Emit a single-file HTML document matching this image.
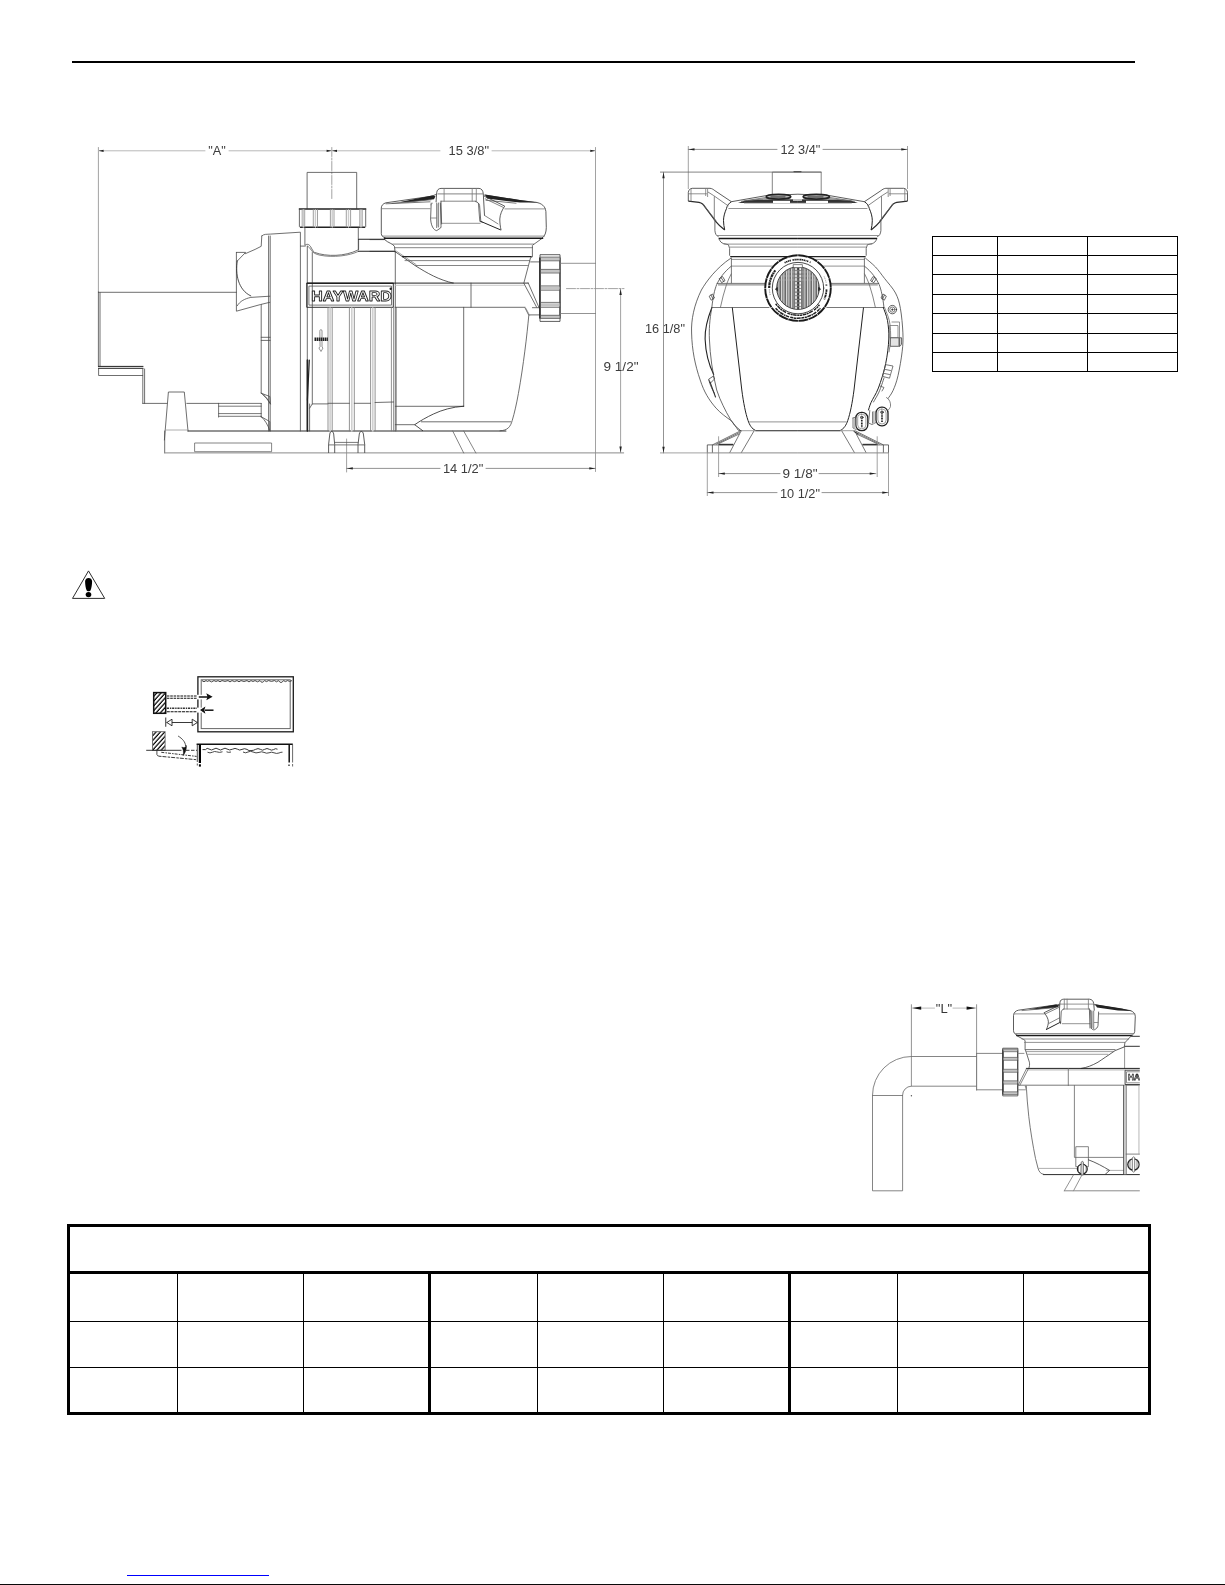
<!DOCTYPE html>
<html>
<head>
<meta charset="utf-8">
<title>Pump dimensions and installation</title>
<style>
html,body{margin:0;padding:0;background:#fff;}
body{width:1225px;height:1585px;position:relative;overflow:hidden;font-family:"Liberation Sans",sans-serif;}
.abs{position:absolute;}
#toprule{left:72px;top:61px;width:1063px;height:2px;background:#000;}
#botrule{left:0;top:1584px;width:1225px;height:1px;background:#0a0a0a;}
#link{left:127px;top:1575px;width:142px;height:1px;background:#0000ff;}
svg{position:absolute;left:0;top:0;will-change:transform;}
</style>
</head>
<body>
<div id="toprule" class="abs"></div>
<svg id="art" width="1225" height="1585" viewBox="0 0 1225 1585" fill="none" stroke="#000" stroke-width="1">
<!--TABLE1-->
<g id="tbl1" shape-rendering="crispEdges">
<rect x="932.5" y="236.5" width="245" height="135"/>
<path d="M997.5 236.5V371.5M1087.5 236.5V371.5M932.5 255.5H1177.5M932.5 274.5H1177.5M932.5 294.5H1177.5M932.5 313.5H1177.5M932.5 333.5H1177.5M932.5 352.5H1177.5"/>
</g>
<!--TABLE2-->
<g id="tbl2" shape-rendering="crispEdges">
<rect x="68.5" y="1225.5" width="1081" height="188" stroke-width="3"/>
<path d="M68.5 1272.5H1149.5M429.5 1272.5V1413.5M789.5 1272.5V1413.5" stroke-width="3"/>
<path d="M177.5 1272.5V1413.5M303.5 1272.5V1413.5M537.5 1272.5V1413.5M663.5 1272.5V1413.5M897.5 1272.5V1413.5M1023.5 1272.5V1413.5M68.5 1321.5H1149.5M68.5 1367.5H1149.5"/>
</g>
<!--SIDEVIEW_START-->
<g id="side" stroke="#4a4a4a" stroke-width="0.8" stroke-linecap="round" stroke-linejoin="round">
<!-- dimension / extension lines -->
<g stroke="#8a8a8a" stroke-width="0.8">
<path d="M98.4 147.5V292M595.5 147.5V471.5M346.6 439V472M620.6 289V452.5"/>
<path d="M566.5 288.6H624" stroke-dasharray="9 1.5 2 1.5"/>
<path d="M331.8 147.5V199" stroke-dasharray="9 1.5 2 1.5"/>
</g>
<g stroke="#b0b0b0" stroke-width="0.9">
<path d="M98.4 150.8H205M229 150.8H440M492 150.8H595.5"/>
</g>
<g stroke="#777" stroke-width="0.8">
<path d="M346.6 468.4H440M486 468.4H595.5"/>
</g>
<g fill="#222" stroke="none">
<path d="M98.6 150.8l5 -1.1v2.2zM331.6 150.8l-5 -1.1v2.2zM332 150.8l5 -1.1v2.2zM595.3 150.8l-5 -1.1v2.2z"/>
<path d="M346.8 468.4l6 -1.2v2.4zM595.3 468.4l-6 -1.2v2.4z"/>
<path d="M620.6 289l-1.2 6h2.4zM620.6 452.6l-1.2 -6h2.4z"/>
</g>
<!-- motor -->
<path d="M98.4 292.3H236.4"/>
<path d="M98.4 292V366.3M100 292.5V366"/>
<path d="M98.4 366.4H143M98.4 368.3H143" stroke="#222" stroke-width="1"/>
<path d="M98.6 368.5V375.5H142.7M142.8 368.5V403.4M144.6 369V403.4M142.8 403.4H167M186.8 403.4H218.6"/>
<!-- foot -->
<path d="M164.4 440L168.4 392H184.3L188 431"/>
<path d="M165.8 430H188" stroke="#999"/>
<!-- base -->
<path d="M164.7 431V452.9" />
<path d="M188 431H505.9" stroke="#2a2a2a" stroke-width="1.1"/>
<path d="M164.7 452.9H623.7" stroke="#8a8a8a" stroke-width="1"/>
<rect x="195" y="443" width="76.6" height="8.7" stroke="#666"/>
<!-- small box left of bracket -->
<path d="M218.6 403.4V417.1M218.6 403.4H261.2M218.6 406.2H261.2M218.6 413.6H261.2M218.6 416.3H261.2" stroke="#555"/>
<!-- bracket / end bell -->
<path d="M261.8 235.9C264 233.8 267 234.4 270.4 234.1L300.4 232.2V431"/>
<path d="M261.8 235.9L261.2 246.3L255.1 249.4L245.3 253.7"/>
<path d="M236.4 252.4H245.6L237.3 261"/>
<path d="M236.4 252.4V311.2L260.6 304.5L269.8 302.3"/>
<path d="M237.3 261C235.2 274 238 290 250.8 295.9" stroke="#222"/>
<path d="M237.3 305.7C240 301 245 298.7 250.8 297.4L269.8 296.2"/>
<path d="M268.6 236V431M270.2 236V431M261.2 304.5V393M261.2 403.4V417"/>
<path d="M261.2 337.3H270.2M261.2 340.4H270.2"/>
<path d="M261.2 393.2L269.8 396.5L270.4 403.9M261.2 393.2C265 396 268 400 270.4 403.9M263 394.5C266 397 268.5 400 269.8 403"/>
<path d="M261.2 416.7L269.8 421.6V430.8M261.2 416.7C265 420 268 425 269.8 430.8"/>
<!-- body left verticals -->
<path d="M307.3 246V431M312.3 252.5V404M300.4 246.1H305.3"/>
<path d="M307.4 360V431" stroke="#222" stroke-width="1.6"/>
<path d="M309.3 360L307.4 400" stroke="#222" stroke-width="1.2"/>
<path d="M309.6 404V431M309.6 408.2L312.3 403.9H328"/>
<!-- top pipe + union -->
<path d="M307.1 208.4V172.4H356.7V208.4"/>
<path d="M299.4 209H365.7M300.5 227.3H364.7" stroke="#222" stroke-width="1.4"/>
<path d="M299.4 209V226.5M365.7 209V226.5" stroke="#444"/>
<path d="M302.2 209.5V227M304.7 209.5V227M313.3 209.5V227M317.5 209.5V227M330.4 209.5V227M334 209.5V227M346.3 209.5V227M350.6 209.5V227M359.8 209.5V227M362.2 209.5V227" stroke="#888"/>
<path d="M303.4 210V227M315.4 210V227M332.2 210V227M348.5 210V227M361 210V227" stroke="#ccc" stroke-width="1.4"/>
<path d="M304.9 227.5V245.1M358.3 227.5V250"/>
<!-- body top curve -->
<path d="M305.3 245.1C307 243.5 309 244.3 310.5 246.5C312 249 313 251.5 314.5 252.4C327 257 345 256.3 357.3 250.3L358.6 249.5V239.5"/>
<path d="M307.4 246.6C309 246 310 248.6 311.5 250.5C313 253 316 254.3 320 255.2C333 257.8 349 256 358.6 251.3" stroke="#666"/>
<path d="M358.6 239.3H384.7M358.6 251.3H394.5" stroke="#222" stroke-width="1.1"/>
<!-- logo plate -->
<rect x="307.1" y="283.3" width="86.2" height="24" stroke="#333" stroke-width="1"/>
<rect x="309.3" y="286.1" width="82.2" height="19" stroke="#555"/>
<path d="M307.1 283.3H393.3" stroke="#222" stroke-width="1.3"/>
<text x="311.2" y="300.8" font-family="Liberation Sans, sans-serif" font-weight="bold" font-size="14.8" textLength="80.5" lengthAdjust="spacingAndGlyphs" fill="#fff" stroke="#222" stroke-width="0.85">HAYWARD</text>
<circle cx="390.7" cy="288.8" r="1.2" fill="#222" stroke="none"/>
<!-- ribs -->
<path d="M328 307.5V431M332.2 307.5V431M349.4 307.5V431M354.3 307.5V431M370.6 307.5V431M375.1 307.5V431M391.4 307.5V431M393.6 307.5V431" stroke="#777"/>
<path d="M330.1 308V431M351.8 308V431M372.8 308V431" stroke="#d0d0d0" stroke-width="1.6"/>
<path d="M328 403.3H349.4M354.3 403.3H370.6M375.1 402.5L393.6 402"/>
<!-- cross symbol -->
<path d="M319.8 331C319.8 329 322 329 322 331V347L323 348L321 351.5L318.9 348L319.8 347Z" stroke="#777"/>
<path d="M314.5 339.2H328" stroke="#222" stroke-width="3.6" stroke-dasharray="1.6 0.5" stroke-linecap="butt"/>
<!-- drain plugs -->
<path d="M328.6 452.5V444.5L329.8 434C330.2 430.6 333.2 430.6 333.7 434L334.7 444.5V452.5M358 452.5V444.5L359.3 434C359.8 430.6 362.9 430.6 363.4 434L364.7 444.5V452.5" stroke="#333"/>
<path d="M328.6 444.9H364.7M334.7 442.4H358" stroke="#555"/>
<!-- strainer housing -->
<path d="M395.3 251.6V431"/>
<path d="M396.3 307.5V431" stroke="#777"/>
<path d="M370 251.4H394.5" stroke="#333"/>
<path d="M370 239.6H384.7C388 243 393 243.5 394.5 246.5L395.1 252" stroke="#333"/>
<path d="M395.1 251.6L415.3 265.7C427 273 439 280 453.3 283.1" stroke="#333"/>
<path d="M396.5 251.2L416 264.5" stroke="#888"/>
<path d="M307.1 283.1H453.3" stroke="#222" stroke-width="1"/>
<path d="M453.3 283.1H528.2" stroke="#666" stroke-width="1.1"/>
<path d="M395.3 285.3H524" stroke="#bbb"/>
<path d="M395.1 307.3H525.1M471 283.1V307.3M463.7 307.3V406.3M395.3 406.3H463.7"/>
<path d="M463.7 406.2C452 407 442 410 433.7 413.9C427 417 420 421 414.7 424.7L422.7 430.7" stroke="#222"/>
<path d="M395.3 424.7H414.7M421.4 421.8H510.8"/>
<!-- rings under lid -->
<path d="M392.7 244.1H533.7M395.1 247.7H532.4" stroke="#666"/>
<path d="M402.4 256.6H531.2" stroke="#222" stroke-width="1.3"/>
<path d="M405 260.6H529.5M415.3 265.5H527.5" stroke="#666"/>
<!-- body right outline -->
<path d="M542.2 238.3L533 244.9L532.4 245.5V256.9L530.6 257.5L523.9 282.9"/>
<path d="M530.6 261.9H539.8M532.4 307.7H539.8M528.8 314.9H539.8"/>
<path d="M528.2 282.9L539.2 308M523.9 283.4L536.7 307.3"/>
<path d="M525.1 308L528.8 315.3C527 335 523.5 365 518.4 393.5C516.5 404 514.5 413 512.2 420.6C510.5 426.5 508 430.5 500 430.8" />
<path d="M526 308.5L529.6 315.3" stroke="#888"/>
<!-- right union -->
<rect x="540.4" y="254.7" width="19.6" height="66.7" stroke="#333"/>
<path d="M539.9 258V318" stroke="#222" stroke-width="1.5"/>
<path d="M560 258V318" stroke="#222" stroke-width="1"/>
<path d="M541 258.9H559.5M541 271.2H559.5M541 288H559.5M541 304.8H559.5M541 316.8H559.5" stroke="#c4c4c4" stroke-width="3.2" stroke-linecap="butt"/>
<path d="M540.4 257.1H560M540.4 260.8H560M540.4 269.4H560M540.4 273H560M540.4 285.9H560M540.4 290.2H560M540.4 302.4H560M540.4 307.3H560M540.4 315.3H560M540.4 318.4H560" stroke="#555"/>
<path d="M560 263.3H595.5M560 313.5H595.5" stroke="#777"/>
<!-- legs -->
<path d="M452.7 431L463.7 453M463.7 431L475.9 453" stroke="#666"/>
</g>
<!--SIDEVIEW_END-->
<!--LID_START-->
<g id="lid" stroke="#4a4a4a" stroke-width="0.8" stroke-linecap="round" stroke-linejoin="round">
<!-- lid outline -->
<path d="M385.3 238C382.5 237 381.4 235.5 381.3 233.7V208C381.4 205.5 383 203.6 385.9 202.8L431.2 196.3L436.1 194.5" stroke="#333"/>
<path d="M484.5 195.1L520 200.6L536 202.3C541.5 203.3 545.3 206 545.9 211.6L546.3 227.6C546.2 232.5 545 236 542.2 238" stroke="#333"/>
<path d="M382.5 236.1H544.5" stroke="#777"/>
<path d="M384.5 238.3H542.6" stroke="#1a1a1a" stroke-width="1.5"/>
<path d="M381.6 208.7H430M504.9 208.9H545.5" stroke="#777"/>
<!-- dark wedges on top -->
<path d="M400 202L432 195.4L435.5 196.2L434 199.3L408 202.3Z" fill="#222" stroke="none"/>
<path d="M392 203.4L431 199.8M386 203.8L430 201.8" stroke="#555"/>
<path d="M485 194.4L520 200L538 202.6L520 202.6L487 198.6Z" fill="#222" stroke="none"/>
<path d="M486 200.3L516 203.2" stroke="#555"/>
<!-- handle -->
<path d="M436.1 201.8L436.7 192.7C437 190 438.5 188.5 441 188.4H479C481.5 188.5 483 190.5 483.3 193.9L484.5 215.3" stroke="#333"/>
<path d="M438 193.9H482.6M441 201.2H475.3" stroke="#666"/>
<path d="M441 201.2L441.6 223.9M475.3 201.2C477.5 202 479.2 203.3 479.6 205.5L480.8 221.4" stroke="#444"/>
<path d="M444.1 188.4V201.2M472.2 188.4V201.2M476.3 188.4V202" stroke="#777"/>
<path d="M441.6 223.3H480.2" stroke="#777"/>
<!-- left leg of handle -->
<path d="M431.2 203.1L430.6 219C430.9 223.5 432 226.7 433.7 228.8C434.8 230 435.8 230.5 436.7 230.6L440.6 228C441.1 227.5 441.1 226.5 441 225.5L440.4 203" stroke="#444"/>
<path d="M436.7 203V227.6M438.6 203V227" stroke="#555"/>
<path d="M437.6 204V226" stroke="#bbb" stroke-width="1.2"/>
<path d="M431 218H436.7M430.6 204.8L432.5 203.2" stroke="#777"/>
<!-- right leg & wing -->
<path d="M478.4 203.5L479.8 221.4L482.5 222.3" stroke="#555"/>
<path d="M484.5 196.3L504.7 206.1C502 210 500 214.5 499.8 219C499.8 223 500.3 227 501 229.8" stroke="#333"/>
<path d="M480.8 221.4L500.4 229.8" stroke="#222" stroke-width="1"/>
<path d="M484.6 215.5L498 223.9M485.2 198.8L503.5 207.5" stroke="#666"/>
</g>
<g id="sidetext" opacity="0.99" font-family="Liberation Sans, sans-serif" font-size="12" fill="#3a3a3a" stroke="none" text-anchor="middle">
<text x="217" y="155.2" textLength="17.5" lengthAdjust="spacingAndGlyphs">"A"</text>
<text x="468.8" y="155.2" textLength="40.4" lengthAdjust="spacingAndGlyphs">15 3/8"</text>
<text x="463.1" y="473.3" textLength="40.4" lengthAdjust="spacingAndGlyphs">14 1/2"</text>
<text x="621" y="370.8" textLength="35" lengthAdjust="spacingAndGlyphs">9 1/2"</text>
</g>
<!--LID_END-->
<!--FRONTVIEW_START-->
<g id="front" stroke="#4a4a4a" stroke-width="0.8" stroke-linecap="round" stroke-linejoin="round">
<g stroke-linecap="butt">
<!-- handle -->
<path d="M688.3 201.1V192.5C688.6 190 690 188.5 692.2 188.3H710C712 188.5 713.5 189.5 714.9 190.7L731.4 201.7" stroke="#333"/>
<path d="M688.3 201.1L699 202.3C702 203 704 205 705.1 207.2L716.1 221.9C718.5 225 721.5 227.5 724.7 229.9" stroke="#2a2a2a" stroke-width="1.200"/>
<path d="M731.4 201.7C728.5 203.5 727 206 726.5 208.5C724.5 213 723.5 217 723.5 220.7C723.6 224 724 227 724.7 229.9" stroke="#222" stroke-width="1"/>
<path d="M688.3 193.8H706.9M691 189V201.3M705.7 188.3V196M707.6 188.3V197" stroke="#777"/>
<path d="M713.7 195.6L728.4 206M708 192L713.7 195.6M702.7 203.7L716.1 220.8" stroke="#666"/>
<path d="M714.3 196.2V220.7" stroke="#666"/>
<!-- lid -->
<path d="M731.4 201.7L766.3 195.6L797.9 194.2" stroke="#333"/>
<path d="M728.4 208.5H797.9" stroke="#777"/>
<path d="M714.9 221V230.6C715.2 234 716.5 236 718.6 236.7" stroke="#444"/>
<path d="M717 235.5H797.9" stroke="#777"/>
<path d="M718.6 238.6H797.9" stroke="#1a1a1a" stroke-width="1.5"/>
<path d="M719.2 239.2C720 241.5 721.5 243 723.5 243.5L728.4 244.7L729.6 248.4V255.7" stroke="#444"/>
<path d="M723.5 244.1H797.9M729.6 247.1H797.9" stroke="#777"/>
<path d="M730.2 256.6H797.9" stroke="#222" stroke-width="1.1"/>
<path d="M731 259.4H797.9M731.4 266.1H797.9" stroke="#777"/>
<path d="M731.4 257.6V283.3" stroke="#555"/>
<path d="M716.7 283.4H797.9M718 284.9H797.9" stroke="#555"/>
<!-- top dark band of lid -->
<path d="M738 202.9L745 200.600L766 199.500L797.900 199.300V202.900Z" fill="#333" stroke="none"/>
<path d="M741 201.400L770 196.800M748 200.600L772 198" stroke="#555" stroke-width="0.700"/>
<path d="M744 203.2H797.9" stroke="#999"/>
<!-- outer body arcs -->
<path d="M731.4 266.1C724 272 719.5 278.5 716.7 284.5C714.5 290 713 297 711.8 307.8" stroke="#444"/>
<path d="M731.4 273.5C729.5 277 727.8 281 726.5 284.5C724 292 722 300 720.4 307.5" stroke="#666"/>
<path d="M711.8 307.5H769.4" stroke="#555"/>
<!-- strainer body -->
<path d="M732.3 307.5L741.8 390C743.5 403 745.5 413 748 420.4C749.5 425 752 429 755.3 430.2" stroke="#222" stroke-width="1"/>
<path d="M749.2 421.9H797.9" stroke="#777"/>
<path d="M755.3 430.8H797.9" stroke="#222" stroke-width="1.1"/>
<path d="M740.6 430.7H755.3" stroke="#888"/>
<!-- legs + base -->
<path d="M741.2 430.8L729.6 452.9M754.1 430.8L741.2 452.9" stroke="#555"/>
<path d="M707.3 452.9V444.9H733.3M712.4 444.9V452.9" stroke="#444"/>
<path d="M712.4 444.9L740.6 430.8M718.6 443.7L739.4 433.9M716 444.2L739.8 432.4" stroke="#555"/>
<path d="M718 444.5H733.3" stroke="#333" stroke-width="1.4"/>
<path d="M707.3 452.9H797.9" stroke="#8a8a8a" stroke-width="1"/>
<!-- ext lines -->
<path d="M688.3 146V189M707.3 453V496M718.6 436.3V477" stroke="#8a8a8a"/>
</g>
<g stroke-linecap="butt" transform="translate(1595.8 0) scale(-1 1)">
<!-- handle -->
<path d="M688.3 201.1V192.5C688.6 190 690 188.5 692.2 188.3H710C712 188.5 713.5 189.5 714.9 190.7L731.4 201.7" stroke="#333"/>
<path d="M688.3 201.1L699 202.3C702 203 704 205 705.1 207.2L716.1 221.9C718.5 225 721.5 227.5 724.7 229.9" stroke="#2a2a2a" stroke-width="1.200"/>
<path d="M731.4 201.7C728.5 203.5 727 206 726.5 208.5C724.5 213 723.5 217 723.5 220.7C723.6 224 724 227 724.7 229.9" stroke="#222" stroke-width="1"/>
<path d="M688.3 193.8H706.9M691 189V201.3M705.7 188.3V196M707.6 188.3V197" stroke="#777"/>
<path d="M713.7 195.6L728.4 206M708 192L713.7 195.6M702.7 203.7L716.1 220.8" stroke="#666"/>
<path d="M714.3 196.2V220.7" stroke="#666"/>
<!-- lid -->
<path d="M731.4 201.7L766.3 195.6L797.9 194.2" stroke="#333"/>
<path d="M728.4 208.5H797.9" stroke="#777"/>
<path d="M714.9 221V230.6C715.2 234 716.5 236 718.6 236.7" stroke="#444"/>
<path d="M717 235.5H797.9" stroke="#777"/>
<path d="M718.6 238.6H797.9" stroke="#1a1a1a" stroke-width="1.5"/>
<path d="M719.2 239.2C720 241.5 721.5 243 723.5 243.5L728.4 244.7L729.6 248.4V255.7" stroke="#444"/>
<path d="M723.5 244.1H797.9M729.6 247.1H797.9" stroke="#777"/>
<path d="M730.2 256.6H797.9" stroke="#222" stroke-width="1.1"/>
<path d="M731 259.4H797.9M731.4 266.1H797.9" stroke="#777"/>
<path d="M731.4 257.6V283.3" stroke="#555"/>
<path d="M716.7 283.4H797.9M718 284.9H797.9" stroke="#555"/>
<!-- top dark band of lid -->
<path d="M738 202.9L745 200.600L766 199.500L797.900 199.300V202.900Z" fill="#333" stroke="none"/>
<path d="M741 201.400L770 196.800M748 200.600L772 198" stroke="#555" stroke-width="0.700"/>
<path d="M744 203.2H797.9" stroke="#999"/>
<!-- outer body arcs -->
<path d="M731.4 266.1C724 272 719.5 278.5 716.7 284.5C714.5 290 713 297 711.8 307.8" stroke="#444"/>
<path d="M731.4 273.5C729.5 277 727.8 281 726.5 284.5C724 292 722 300 720.4 307.5" stroke="#666"/>
<path d="M711.8 307.5H769.4" stroke="#555"/>
<!-- strainer body -->
<path d="M732.3 307.5L741.8 390C743.5 403 745.5 413 748 420.4C749.5 425 752 429 755.3 430.2" stroke="#222" stroke-width="1"/>
<path d="M749.2 421.9H797.9" stroke="#777"/>
<path d="M755.3 430.8H797.9" stroke="#222" stroke-width="1.1"/>
<path d="M740.6 430.7H755.3" stroke="#888"/>
<!-- legs + base -->
<path d="M741.2 430.8L729.6 452.9M754.1 430.8L741.2 452.9" stroke="#555"/>
<path d="M707.3 452.9V444.9H733.3M712.4 444.9V452.9" stroke="#444"/>
<path d="M712.4 444.9L740.6 430.8M718.6 443.7L739.4 433.9M716 444.2L739.8 432.4" stroke="#555"/>
<path d="M718 444.5H733.3" stroke="#333" stroke-width="1.4"/>
<path d="M707.3 452.9H797.9" stroke="#8a8a8a" stroke-width="1"/>
<!-- ext lines -->
<path d="M688.3 146V189M707.3 453V496M718.6 436.3V477" stroke="#8a8a8a"/>
</g>
<!-- left arcs -->
<path d="M730.8 258.2C716 268 706 282 701.4 290C694 305 691 320 691.6 333C692 350 695 365 700.2 380C704 392 709 400 716.1 408.2C721 413.5 726 417 730.8 420.4C734 423.5 736 427 738.2 430.2L741 430.7" stroke="#444"/>
<path d="M711.8 307.8C707 320 704.8 330 705.1 339C705.6 352 708.5 364 713.7 374.5" stroke="#222" stroke-width="1.1"/>
<path d="M711.8 307.8C709.5 320 709 330 709.4 339C710 355 712.5 373 716.7 390L719.8 398.4C724 408 729 418 734.5 425.3L740.6 430.6" stroke="#444"/>
<path d="M708.8 380C710 385 712.5 390 714.5 393.5" stroke="#444"/>
<!-- right arcs -->
<path d="M865.5 258.2C867.2 259.7 872.3 263.6 875.5 267.0C878.7 270.4 881.2 274.1 884.5 278.4C887.8 282.7 892.9 288.0 895.5 293.0C898.1 298.0 899.2 301.8 900.4 308.4C901.6 315.0 902.6 325.8 902.9 332.9C903.2 340.0 903.0 344.1 902.2 351.2C901.4 358.3 899.5 369.2 898.0 375.7C896.5 382.2 894.8 386.6 893.1 390.4C891.4 394.2 888.9 397.1 888.0 398.5" stroke="#444"/>
<path d="M883.3 307.5C884.0 309.7 886.6 315.4 887.5 320.6C888.4 325.9 889.1 331.9 888.8 339.0C888.5 346.1 887.4 355.3 885.7 363.5C884.0 371.7 880.9 381.5 878.4 388.0C875.9 394.5 872.6 398.9 871.0 402.6C869.4 406.3 868.9 408.8 868.5 410.0" stroke="#222" stroke-width="1"/>
<path d="M884.6 307.5C885.4 309.9 888.6 316.8 889.6 322.0C890.6 327.2 890.7 334.0 890.6 339.0C890.5 344.0 889.3 349.8 889.0 352.0" stroke="#666"/>
<path d="M884.0 378.0C883.2 380.3 880.8 388.0 879.0 392.0C877.2 396.0 874.4 400.3 873.5 402.0" stroke="#444"/>
<!-- left clips -->
<path d="M719.5 278.5L722.5 276.5L725 280.5L722 282.5ZM721 277.5L723.8 281.6" stroke="#444"/>
<path d="M709.5 296L712.5 294L714.5 298L711.5 300ZM711 295L713 299" stroke="#444"/>
<path d="M709 379L713.5 376L714.5 379L710.5 383Z" stroke="#444"/>
<path d="M710 382L715.5 397" stroke="#333" stroke-width="1.1"/>
<!-- right clips -->
<path d="M876 278.5L873 276.5L870.5 280.5L873.5 282.5ZM874.5 277.5L871.7 281.6" stroke="#444"/>
<path d="M886 296L883 294L881 298L884 300ZM884.5 295L882.5 299" stroke="#444"/>
<circle cx="892.400" cy="309.600" r="4.200" stroke="#333" fill="#fff"/>
<circle cx="892.400" cy="309.600" r="2.600" stroke="#444" stroke-width="0.700"/>
<path d="M891.100 309.600H893.700M892.400 308.300V310.900" stroke="#222" stroke-width="0.700" stroke-linecap="butt"/>
<path d="M890 325.5H898V337.8H890ZM892 322H899.5V337" stroke="#777"/>
<path d="M890.6 337.8H901.6V343C901.6 345 900.5 346.3 898.5 346.3H890.6Z" stroke="#444" fill="#e4e4e4"/>
<path d="M899.3 338V346" stroke="#666" stroke-width="1.6"/>
<path d="M886 364.7L893 366L889.5 378.2L883 376.5ZM885.5 369.5L890.5 370.5M884.5 373.5L889.5 374.5" stroke="#555"/>
<path d="M880 386L884 387.5L882 391" stroke="#555"/>
<!-- drain plugs -->
<g stroke="#222" stroke-width="1.3">
<rect x="855.800" y="412.300" width="12" height="18.400" rx="5.700" fill="#fff"/>
<rect x="857.700" y="414.200" width="8.200" height="14.600" rx="3.900" stroke="#777" stroke-width="0.700"/>
<circle cx="861.800" cy="417.400" r="1.300" fill="#888" stroke="#222" stroke-width="0.700"/>
<path d="M861.800 419.800V427.400" stroke="#222" stroke-width="1.700" stroke-dasharray="1.100 0.500" stroke-linecap="butt"/>
<rect x="876" y="407.200" width="12" height="18.600" rx="5.700" fill="#fff"/>
<rect x="877.900" y="409.100" width="8.200" height="14.800" rx="3.900" stroke="#777" stroke-width="0.700"/>
<circle cx="882" cy="412.200" r="1.300" fill="#888" stroke="#222" stroke-width="0.700"/>
<path d="M882 414.600V422.400" stroke="#222" stroke-width="1.700" stroke-dasharray="1.100 0.500" stroke-linecap="butt"/>
</g>
<path d="M853 418V428L856.200 429.500M853 418L856 417M869.800 410.500L868.500 423L872 424.500L876 422.500M872.500 412V423" stroke="#555"/>
<path d="M854.500 419V428" stroke="#bbb" stroke-width="1.600"/>
<path d="M873.800 412V423" stroke="#bbb" stroke-width="1.800"/>
<path d="M886.500 397.500C889.500 399 891 403 890.500 406.500C890 408 889 409.500 887.800 410.500" stroke="#666"/>
<path d="M853.900 431.500L858 434" stroke="#333" stroke-width="1"/>
<!-- top pipe and ellipses -->
<path d="M772.3 195V172.1H821.2V195" stroke="#666"/>
<path d="M660.4 172.1H821.2" stroke="#666"/>
<path d="M794 171.6H801" stroke="#555" stroke-width="1.2"/>
<ellipse cx="778.500" cy="196.700" rx="12.300" ry="2.400" stroke="#222" stroke-width="1.700" fill="#bbb"/>
<ellipse cx="816.300" cy="196.700" rx="13.200" ry="2.400" stroke="#222" stroke-width="1.700" fill="#bbb"/>
<path d="M771 197H785M808 197H823" stroke="#555" stroke-width="1.4"/>
<rect x="773" y="200.8" width="17" height="2.3" fill="#fff" stroke="none"/>
<rect x="806" y="200.8" width="22" height="2.3" fill="#fff" stroke="none"/>
<rect x="793" y="199.2" width="9" height="1.6" fill="#ddd" stroke="none"/>
<!-- front union circle -->
<circle cx="798" cy="288.1" r="32.800" fill="#fff" stroke="#1a1a1a" stroke-width="1.900" stroke-dasharray="9.800 0.500" stroke-linecap="butt"/>

<circle cx="798" cy="288.1" r="25.7" stroke="#333" stroke-width="0.9"/>
<g stroke-linecap="butt"><path d="M784.6 262.8A28.6 28.6 0 0 1 810.5 262.4" stroke="#222" stroke-width="1.7" stroke-dasharray="1.2 0.5 1.6 0.5 1 0.5 1.4 1.6 1.8 0.4 1.3 0.4 1.6 0.4 1.2 0.4 1.5 0.4"/>
<path d="M769.2 288.1A28.8 28.8 0 0 1 775.6 270.0" stroke="#222" stroke-width="2.2" stroke-dasharray="2.2 0.6 3 0.5 1.6 0.5"/>
<path d="M770.2 295.0A28.6 28.6 0 0 1 769.4 289.1" stroke="#999" stroke-width="1.2" stroke-dasharray="1 0.8"/>

<path d="M826.3 284.1A28.6 28.6 0 0 1 823.7 300.6" stroke="#222" stroke-width="1.8" stroke-dasharray="0.6 0.6 0.6 3.5 2.4 0.5 2 0.5 2.5 0.5"/>
<path d="M824.1 276.5A28.6 28.6 0 0 1 826.2 283.1" stroke="#999" stroke-width="1" stroke-dasharray="1 0.8"/>
<path d="M775.6 308.3A30.2 30.2 0 0 0 820.4 308.3" stroke="#222" stroke-width="1.5" stroke-dasharray="3 0.6 2 0.5 4 0.6 1.5 0.5 3.5 1.2 3 0.5 2.5 0.5 4 0.6"/>
<path d="M775.7 303.7A27.2 27.2 0 0 0 819.4 304.8" stroke="#222" stroke-width="1.5" stroke-dasharray="2.5 0.6 3.5 0.5 2 0.6 4 1.5 3 0.5 2 0.5 3.5 0.6 2 0.5"/></g>
<circle cx="798" cy="288.1" r="21.3" fill="#8c8c8c" stroke="#333" stroke-width="0.9"/>
<clipPath id="strc"><circle cx="798" cy="288.1" r="20.8"/></clipPath>
<g clip-path="url(#strc)">
<path d="M779 266V310M781.5 266V310M784 266V310M786.5 266V310M789 266V310M791.5 266V310M805 266V310M807.5 266V310M810 266V310M812.5 266V310M815 266V310M817.5 266V310" stroke="#d8d8d8" stroke-width="1"/>
<path d="M780.2 266V310M785.2 266V310M790.2 266V310M806.2 266V310M811.2 266V310M816.2 266V310" stroke="#555" stroke-width="0.9"/>
<rect x="794" y="266" width="8.4" height="44" fill="#777" stroke="none"/>
<path d="M796 268V310M800.2 268V310" stroke="#fff" stroke-width="1.5" stroke-dasharray="1.5 2.1"/>
<path d="M798.1 268V310" stroke="#222" stroke-width="1.2" stroke-dasharray="1.5 2.1"/>
<path d="M778 272H818M778 276H818M778 280H818" stroke="#bbb" stroke-width="0.5"/>
</g>
<rect x="793.6" y="264.6" width="8.8" height="3" fill="#fff" stroke="#333" stroke-width="0.6"/>
<path d="M775.5 289L777.5 287.5V290.5ZM820.5 289L818.5 287.5V290.5Z" fill="#222" stroke="#222" stroke-width="0.6"/>
<!-- dims -->
<g stroke="#777">
<path d="M688.3 149.4H777M823 149.4H907.5M718.6 473.6H780M819 473.6H875.9M707.3 492.6H777M822 492.6H888.5"/>
<path d="M663.5 172.3V452.9"/>
<path d="M660.4 452.9H707.3" stroke="#8a8a8a"/>
</g>
<g fill="#222" stroke="none">
<path d="M688.5 149.4l6 -1.2v2.4zM907.3 149.4l-6 -1.2v2.4zM718.8 473.6l6 -1.2v2.4zM875.7 473.6l-6 -1.2v2.4zM707.5 492.6l6 -1.2v2.4zM888.3 492.6l-6 -1.2v2.4z"/>
<path d="M663.5 172.3l-1.2 6h2.4zM663.5 452.8l-1.2 -6h2.4z"/>
</g>
</g>
<g id="fronttext" opacity="0.99" font-family="Liberation Sans, sans-serif" font-size="12" fill="#3a3a3a" stroke="none" text-anchor="middle">
<text x="800.4" y="154" textLength="40" lengthAdjust="spacingAndGlyphs">12 3/4"</text>
<text x="665" y="332.8" textLength="40" lengthAdjust="spacingAndGlyphs">16 1/8"</text>
<text x="800" y="478.3" textLength="35" lengthAdjust="spacingAndGlyphs">9 1/8"</text>
<text x="800" y="497.6" textLength="40" lengthAdjust="spacingAndGlyphs">10 1/2"</text>
</g>
<!--FRONTVIEW_END-->
<!--WARNING_START-->
<g id="warn">
<path d="M88.500 570.900L72.500 598.400H104.700Z" stroke="#222" stroke-width="0.950" fill="#fff" stroke-linejoin="miter"/>
<path d="M85.1 581.3C85.1 576.8 92.1 576.8 92.1 581.3C92.1 584.5 91.4 588.5 90.6 590.3C90 591.6 87.1 591.6 86.6 590.3C85.7 588.5 85.1 584.5 85.1 581.3Z" fill="#000" stroke="none"/>
<ellipse cx="88.5" cy="594.6" rx="2.8" ry="2.6" fill="#000" stroke="none"/>
</g>
<!--WARNING_END-->
<!--POOL_START-->
<g id="pool" stroke="#111" stroke-linecap="butt">
<defs>
<pattern id="hat" width="3.2" height="3.2" patternUnits="userSpaceOnUse" patternTransform="rotate(-48)">
<rect width="3.2" height="3.2" fill="#fff" stroke="none"/>
<path d="M0 1H3.2" stroke="#000" stroke-width="1.25"/>
</pattern>
</defs>
<!-- plan view pool -->
<rect x="197.9" y="676.8" width="95.4" height="55" stroke="#1a1a1a" stroke-width="1.3"/>
<rect x="201.2" y="679.8" width="89" height="48.8" stroke="#666" stroke-width="1"/>
<path d="M202 680.6q2 2.4 4 0q1.500 1.800 3 0q2.500 2.600 5 0q2 1.800 4 0q2 2.400 4 0q3 1.600 6 0q2 2.600 4 0q2.500 2 5 0q2 2.400 4 0q3 1.800 6 0q2 2.600 4 0q2 1.800 4 0q2.500 2.400 5 0q2 3.400 4.500 0q2 2 4 0q3 1.600 6 0q2 2.400 4 0q2.500 3.800 5 0q2 2 4 0q2 1.600 4.500 0" stroke="#333" stroke-width="0.9"/>
<!-- pump box plan -->
<rect x="153.7" y="692.6" width="12" height="20.7" fill="url(#hat)" stroke="#111" stroke-width="1.5"/>
<!-- dashed pipes -->
<path d="M166.800 695.900H197.500M166.800 698.300H197.500" stroke="#111" stroke-width="1.050" stroke-dasharray="2.600 0.800"/>
<path d="M166.8 708.2H197.5" stroke="#333" stroke-width="1.5" stroke-dasharray="2.2 0.9 1.4 0.8"/>
<path d="M166.800 711.700H197.500" stroke="#111" stroke-width="1.050" stroke-dasharray="3 0.800"/>
<!-- arrows -->
<rect x="197" y="694.800" width="5" height="4.600" fill="#fff" stroke="none"/>
<rect x="197" y="707.600" width="5" height="5" fill="#fff" stroke="none"/>
<path d="M198.8 697H208" stroke="#111" stroke-width="1.5"/>
<path d="M212.6 696.8L206.3 693.3L207.5 696.8L206.3 700.2Z" fill="#111" stroke="none"/>
<path d="M205 710.2H213.5" stroke="#111" stroke-width="1.5"/>
<path d="M200 710L205.400 706.400L204.400 710L205.400 713.800Z" fill="#111" stroke="none"/>
<!-- distance arrow -->
<path d="M165.700 717.600V726.800" stroke="#555" stroke-width="1.2"/>
<path d="M166.500 722.500H197.500" stroke="#222" stroke-width="0.900"/>
<path d="M166.800 722.500L172 719.200V725.800ZM197.300 722.500L192.200 719.200V725.800Z" fill="#fff" stroke="#222" stroke-width="0.900"/>
<!-- section view -->
<rect x="152.500" y="731.700" width="12.600" height="18.600" fill="url(#hat)" stroke="#666" stroke-width="0.900"/>
<path d="M146.200 750.300H181.500" stroke="#222" stroke-width="0.900"/>
<path d="M186 750.300H197" stroke="#222" stroke-width="0.900" stroke-dasharray="3.500 1.500"/>
<path d="M178.100 736C182.500 738.800 185.400 742 185.600 746" stroke="#222" stroke-width="0.800" fill="none"/>
<path d="M181.800 747C183.500 748 184.800 748 186.400 745.500C186.600 749 185.500 752.500 183.200 755.500C183.800 752 183.500 749.500 181.800 747Z" fill="#111" stroke="#111" stroke-width="0.500"/>
<path d="M156.900 750.500V754.500Q157.300 756 159 756.200" stroke="#222" stroke-width="0.800"/>
<path d="M161.300 752.300L196.600 756.400" stroke="#222" stroke-width="0.900" stroke-dasharray="3 1.200 1.500 1"/>
<path d="M159 756.200L196.600 759.700" stroke="#222" stroke-width="0.900" stroke-dasharray="2.500 1 4 1.200"/>
<path d="M196.600 744.200H292.800" stroke="#111" stroke-width="1.400"/>
<path d="M199.900 744.500V763" stroke="#000" stroke-width="2.200"/>
<path d="M199.900 764.300V766.600" stroke="#000" stroke-width="2"/>
<path d="M197.300 744.500V762M197.300 763.500V765.500" stroke="#222" stroke-width="0.800"/>
<path d="M289.200 744.500V762.500" stroke="#111" stroke-width="1.500"/>
<path d="M289 764.500V766" stroke="#111" stroke-width="1.200"/>
<path d="M292.600 744.500V762.500M292.600 764V766.500" stroke="#444" stroke-width="0.800"/>
<path d="M202.500 749.600h3q1.500 -2.200 3.500 -0.600q2.500 2 5 0q2 -1.600 4 0q2.500 2 5 0q2 -1.600 4 0q2.500 1.800 5.500 0.200q2.500 -1.600 5 0q2 1.600 4.500 0.200q2.500 -1.400 5 0q2 1.800 4 1.200q2.500 0 4.500 -1.200q2.500 -1.600 5 0q2 1.600 4 0q2.500 -1.800 5 0q2 1.400 4 0.200q2 -1.600 4 -0.400" stroke="#222" stroke-width="0.900"/>
<path d="M207.500 752.200q2.500 1.400 5 0q2 -1.200 4 -0.400q3 1.200 6 0M226.500 751.800q2 1 4.500 0.200M243 752q2.500 1.600 5 0q2.500 -1.400 5 0q3 1.600 6 0.400q2.500 -1.200 5 0q2.500 1.400 5 0.400q2.500 -1.200 5 0q2.500 1.200 5 0.200q2 -1 3.500 -0.800" stroke="#333" stroke-width="0.900"/>
</g>
<!--POOL_END-->
<!--ELBOW_START-->
<g id="elbow" stroke="#555" stroke-width="0.8" stroke-linecap="round" stroke-linejoin="round">
<clipPath id="elbclip"><rect x="860" y="990" width="279.8" height="215"/></clipPath>
<g clip-path="url(#elbclip)">
<!-- dim L -->
<path d="M911.400 1004.700V1086M976.600 1004.700V1090" stroke="#777"/>
<path d="M921 1008.100H934.500M953 1008.100H966.500" stroke="#aaa"/>
<path d="M911.600 1008.100l9.600 -1.700v3.400zM976.400 1008.100l-9.800 -1.700v3.400z" fill="#111" stroke="none"/>
<!-- elbow pipe -->
<path d="M976.600 1056.500H911.400A39 39 0 0 0 872.500 1095.500V1190.800H902.600V1095.300A9 9 0 0 1 911.400 1086.200H976.600" stroke="#666"/>
<path d="M872.500 1095.500H902.600" stroke="#666"/>
<circle cx="911.400" cy="1095.700" r="0.700" fill="#555" stroke="none"/>
<!-- coupling -->
<path d="M976.600 1053.400H1002.600M976.600 1089.800H1002.600" stroke="#666"/>
<path d="M976.600 1089.800V1053.400" stroke="#777"/>
<!-- union -->
<rect x="1003.100" y="1048.200" width="14.700" height="47.700" stroke="#444"/>
<path d="M1003 1050V1094" stroke="#222" stroke-width="1.300"/>
<path d="M1017.700 1050V1094" stroke="#333" stroke-width="0.900"/>
<path d="M1003.600 1050.300H1017.300M1003.600 1058.800H1017.300M1003.600 1070.800H1017.300M1003.600 1082.300H1017.300M1003.600 1093.300H1017.300" stroke="#c4c4c4" stroke-width="2.400" stroke-linecap="butt"/>
<path d="M1003.100 1049H1017.800M1003.100 1051.700H1017.800M1003.100 1057.400H1017.800M1003.100 1060.300H1017.800M1003.100 1069.300H1017.800M1003.100 1072.300H1017.800M1003.100 1080.800H1017.800M1003.100 1084H1017.800M1003.100 1091.800H1017.800M1003.100 1094.600H1017.800" stroke="#555" stroke-width="0.700"/>
<!-- lid -->
<path d="M1017.100 1035.100C1014.500 1034.300 1013.600 1032.500 1013.500 1030.400V1015.700C1013.800 1012.500 1015.500 1010.800 1018.400 1010.200L1057.600 1004.700L1059.400 1004.200" stroke="#333"/>
<path d="M1094.300 1004.700L1120 1009L1130 1010.500C1133.500 1011.500 1135 1013.500 1135.300 1016.300L1134.700 1031.600C1134.300 1033.500 1133.300 1034.700 1131.600 1035.300" stroke="#333"/>
<path d="M1015.500 1033.500H1133.500" stroke="#777"/>
<path d="M1016.700 1035.500H1131.800" stroke="#1a1a1a" stroke-width="1.400"/>
<path d="M1014.100 1013.900H1044.700M1099.200 1013.900H1134.900" stroke="#777"/>
<path d="M1028 1009.500L1056 1004.600L1059 1005.600L1058 1007.200L1036 1009.600Z" fill="#222" stroke="none"/>
<path d="M1022 1010.600L1052 1007.900" stroke="#666"/>
<path d="M1095 1004.200L1122 1008.600L1132 1011L1118 1010.600L1097 1007.400Z" fill="#222" stroke="none"/>
<!-- handle -->
<path d="M1059.400 1009.600L1060 1002.200C1060.300 1000.300 1061.500 999.300 1063.700 999.200H1089.400C1092 999.400 1093.300 1001 1093.700 1003.500L1094.300 1010.200" stroke="#333"/>
<path d="M1060 1004.100H1093.700M1063.700 1009H1089.400M1062.400 1023.700H1090" stroke="#777"/>
<path d="M1063.700 1009C1062 1009.800 1061.300 1010.800 1061.200 1012L1060.600 1023.700M1089.400 1009L1090 1028" stroke="#444"/>
<path d="M1064.300 999.200V1009M1067.100 999.200V1009M1088.400 999.200V1009" stroke="#777"/>
<!-- wing -->
<path d="M1059.400 1005.300L1044.100 1012.700C1046.500 1015.500 1048.200 1018.500 1048.400 1021.800C1048.300 1024.500 1047.500 1027 1046.500 1029.400" stroke="#333"/>
<path d="M1046.500 1029.400L1060.600 1022.100" stroke="#222" stroke-width="1"/>
<path d="M1048.800 1023.500L1059.600 1017.800M1045.500 1013.800L1059 1007.400" stroke="#666"/>
<path d="M1059.500 1010V1022.500" stroke="#555"/>
<!-- right leg of handle -->
<path d="M1090.600 1010.200L1091.200 1028C1092 1029.500 1093.200 1030 1094.300 1029.800C1096.500 1028.800 1097.700 1027.500 1098 1025.500L1098.600 1012" stroke="#444"/>
<path d="M1091.800 1011V1028M1093.700 1011V1028.600" stroke="#555"/>
<path d="M1092.700 1012V1027" stroke="#bbb" stroke-width="1.100"/>
<path d="M1094.300 1022.500H1098" stroke="#777"/>
<!-- below lid -->
<path d="M1017.100 1035.900L1023.900 1039.600L1025.100 1040.500V1048.800L1029.400 1062.200C1029.800 1064.500 1029.500 1066.500 1028.800 1068.400" stroke="#444"/>
<path d="M1022 1039H1128.600M1024.500 1042.400H1124.900" stroke="#777"/>
<path d="M1025.100 1049.600H1115.100" stroke="#666" stroke-width="0.900"/>
<path d="M1026 1051.600H1113M1027.600 1054.300H1107.800" stroke="#888"/>
<path d="M1131.600 1035.500L1124.900 1042.700L1124.300 1046.900" stroke="#444"/>
<path d="M1124.300 1046.900L1115.100 1050.600C1108 1055.500 1102 1059.500 1098 1062.200C1092 1065.500 1087 1067.500 1081.400 1068.400" stroke="#333"/>
<path d="M1131.600 1036.300H1140M1124.900 1046.300H1140" stroke="#333" stroke-width="1"/>
<path d="M1124.600 1046.900V1068.400" stroke="#777"/>
<!-- band -->
<path d="M1026.300 1068.400H1140" stroke="#222" stroke-width="1"/>
<path d="M1027 1069.900H1125" stroke="#999"/>
<path d="M1026.300 1069L1018.400 1084.900M1028 1069.500L1020 1085" stroke="#666"/>
<path d="M1018 1085.200H1139.600" stroke="#555"/>
<path d="M1068.300 1068.400V1085.500" stroke="#666"/>
<path d="M1017.800 1053.400H1024M1017.800 1089.800H1025.500M1017.800 1085.200H1019" stroke="#777"/>
<!-- logo plate -->
<rect x="1125.500" y="1070.200" width="40" height="14.300" stroke="#333" stroke-width="0.900"/>
<rect x="1126.900" y="1071.800" width="38" height="11" stroke="#666" stroke-width="0.700"/>
<text x="1128" y="1080.300" font-family="Liberation Sans, sans-serif" font-weight="bold" font-size="9.600" textLength="12" lengthAdjust="spacingAndGlyphs" fill="#fff" stroke="#222" stroke-width="0.750">HA</text>
<!-- body -->
<path d="M1026.300 1086.100C1026.800 1096 1027.600 1106 1028.800 1116.700C1030.500 1131 1032.800 1145 1035.500 1158.400L1038 1168.200C1039 1172 1041 1174 1043.500 1174.300" stroke="#555"/>
<path d="M1025.500 1086L1026.500 1090" stroke="#888" stroke-width="1.200"/>
<path d="M1043.500 1174.600H1139.600" stroke="#2a2a2a" stroke-width="1"/>
<path d="M1038.600 1168.400H1077M1106.500 1170.400H1123.700" stroke="#999"/>
<path d="M1074.400 1085.500V1157.400H1123.100" stroke="#666"/>
<rect x="1076.200" y="1146.700" width="12.200" height="20" stroke="#666"/>
<path d="M1088.400 1159.800C1096 1162.500 1103 1166.500 1109.600 1170.400L1105.300 1174.300" stroke="#333"/>
<circle cx="1082.300" cy="1169.100" r="4.900" stroke="#222" stroke-width="1.300" fill="#fff"/>
<path d="M1081.200 1162.500C1081.200 1161 1083.400 1161 1083.400 1162.500V1175H1081.200Z" stroke="#444" stroke-width="0.700" fill="#ddd"/>
<path d="M1078.500 1166.500V1172M1086 1166.500V1172" stroke="#666" stroke-width="0.600"/>
<!-- motor side right -->
<path d="M1123.700 1085.500V1174.300" stroke="#444" stroke-width="1"/>
<path d="M1125 1085.500V1174" stroke="#bbb" stroke-width="1.200"/>
<path d="M1126.300 1085.500V1174.300" stroke="#666"/>
<path d="M1126.100 1154.100H1140" stroke="#666"/>
<path d="M1139 1086V1154" stroke="#999"/>
<circle cx="1133.500" cy="1164.500" r="5.700" stroke="#222" stroke-width="1.300" fill="#fff"/>
<path d="M1132.300 1158C1132.300 1156.500 1134.700 1156.500 1134.700 1158V1171C1134.700 1172.500 1132.300 1172.500 1132.300 1171Z" stroke="#444" stroke-width="0.700" fill="#fff"/>
<path d="M1130 1160V1169M1137 1160V1169" stroke="#555" stroke-width="0.700"/>
<!-- legs/base -->
<path d="M1073.500 1174.900L1064.300 1190.800M1082 1174.900L1073.500 1190.800" stroke="#777"/>
<path d="M1064.300 1190.800H1139.600" stroke="#8a8a8a" stroke-width="1"/>
</g>
<text opacity="0.99" x="944" y="1013" font-family="Liberation Sans, sans-serif" font-size="13" fill="#333" stroke="none" text-anchor="middle">"L"</text>
</g>
<!--ELBOW_END-->
</svg>
<div id="link" class="abs"></div>
<div id="botrule" class="abs"></div>
</body>
</html>
